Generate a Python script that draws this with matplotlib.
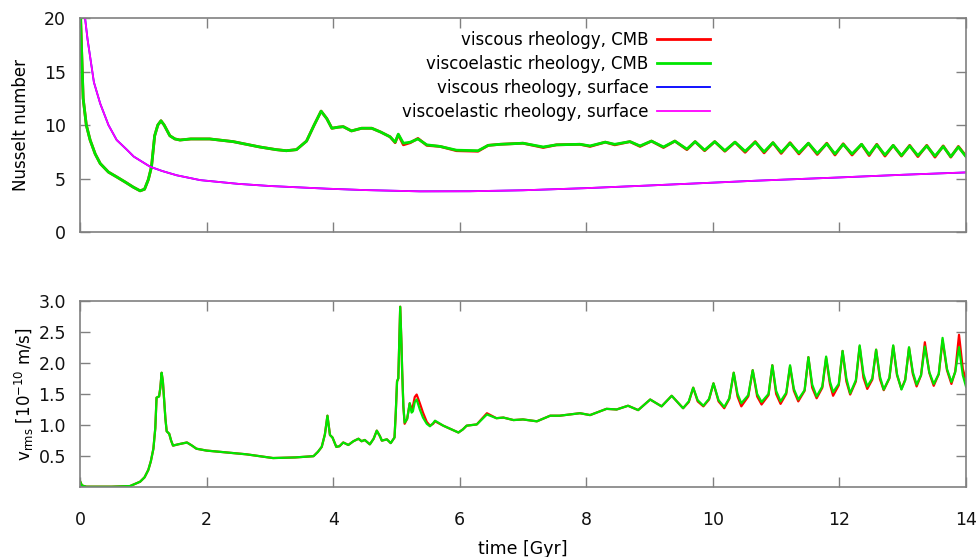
import numpy as np
import matplotlib
matplotlib.use("Agg")
import matplotlib.pyplot as plt

# ---- data ----
# Nusselt number at the CMB
t_nu_cmb = [0.0, 0.02, 0.05, 0.1, 0.16, 0.24, 0.32, 0.45, 0.58, 0.72, 0.84, 0.95,
            1.02, 1.08, 1.13, 1.18, 1.23, 1.28, 1.33, 1.42, 1.50, 1.58, 1.75, 2.05,
            2.42, 2.84, 3.1, 3.26, 3.42, 3.58, 3.70, 3.81, 3.90, 3.98, 4.08, 4.16,
            4.29, 4.45, 4.61, 4.75, 4.90, 4.98, 5.03, 5.11, 5.22, 5.34, 5.48, 5.69,
            5.95, 6.29, 6.45, 6.64, 7.00, 7.32, 7.53, 7.90, 8.06, 8.30, 8.45, 8.69,
            8.85, 9.03, 9.22, 9.40, 9.59,
            9.72, 9.87, 10.03, 10.19, 10.35, 10.51, 10.67, 10.81, 10.95, 11.08,
            11.22, 11.36, 11.51, 11.65, 11.80, 11.93, 12.06, 12.20, 12.35, 12.47,
            12.59, 12.72, 12.85, 12.98, 13.11, 13.24, 13.38, 13.51, 13.64, 13.76,
            13.88, 14.0]
nu_cmb_ve = [22.0, 18.0, 12.5, 10.0, 8.6, 7.3, 6.4, 5.6, 5.15, 4.65, 4.2, 3.85,
             4.0, 4.9, 6.1, 9.0, 10.0, 10.4, 10.0, 9.0, 8.7, 8.6, 8.7, 8.7,
             8.45, 7.95, 7.7, 7.6, 7.7, 8.5, 10.0, 11.3, 10.6, 9.7, 9.8, 9.85,
             9.45, 9.7, 9.7, 9.35, 8.9, 8.4, 9.15, 8.3, 8.4, 8.7, 8.15, 8.0,
             7.65, 7.6, 8.1, 8.2, 8.3, 7.95, 8.15, 8.2, 8.05, 8.4, 8.2, 8.45,
             8.05, 8.5, 7.95, 8.5, 7.75,
             8.45, 7.65, 8.45, 7.6, 8.4, 7.55, 8.4, 7.5, 8.35, 7.45,
             8.3, 7.4, 8.3, 7.35, 8.25, 7.3, 8.2, 7.3, 8.2, 7.25,
             8.15, 7.2, 8.1, 7.15, 8.05, 7.15, 8.05, 7.1, 8.0, 7.05,
             7.95, 7.05]
nu_cmb_v = [22.0, 18.0, 12.5, 10.0, 8.6, 7.3, 6.4, 5.6, 5.15, 4.65, 4.2, 3.85,
            4.0, 4.9, 6.1, 9.0, 10.0, 10.4, 10.0, 9.0, 8.7, 8.6, 8.7, 8.7,
            8.45, 7.95, 7.7, 7.6, 7.7, 8.5, 10.0, 11.3, 10.6, 9.7, 9.8, 9.85,
            9.45, 9.7, 9.7, 9.35, 8.9, 8.35, 9.1, 8.15, 8.35, 8.75, 8.1, 8.0,
            7.6, 7.55, 8.1, 8.2, 8.3, 7.9, 8.15, 8.2, 8.0, 8.4, 8.15, 8.45,
            8.0, 8.5, 7.9, 8.5, 7.7,
            8.45, 7.6, 8.45, 7.55, 8.4, 7.45, 8.45, 7.4, 8.35, 7.35,
            8.35, 7.3, 8.3, 7.25, 8.3, 7.2, 8.25, 7.2, 8.2, 7.15,
            8.2, 7.1, 8.1, 7.1, 8.1, 7.05, 8.1, 7.0, 8.05, 7.0,
            8.0, 7.1]

# Nusselt number at the surface (both rheologies overlap)
t_nu_surf = [0.05, 0.08, 0.12, 0.16, 0.22, 0.32, 0.45, 0.58, 0.74, 0.85, 1.0, 1.11,
             1.3, 1.53, 1.9, 2.5, 3.0, 3.9, 4.5, 5.37, 6.16, 7.0, 8.0, 9.0, 9.8,
             10.7, 12.0, 13.0, 14.0]
nu_surf_v = [23.0, 20.0, 18.0, 16.4, 14.0, 12.0, 10.0, 8.6, 7.7, 7.05, 6.5, 6.1,
             5.7, 5.3, 4.85, 4.5, 4.3, 4.05, 3.92, 3.8, 3.81, 3.9, 4.1, 4.35, 4.56,
             4.8, 5.1, 5.35, 5.57]
nu_surf_ve = [23.0, 20.0, 18.0, 16.4, 14.0, 12.0, 10.0, 8.6, 7.7, 7.05, 6.5, 6.1,
              5.7, 5.3, 4.85, 4.5, 4.3, 4.05, 3.92, 3.8, 3.81, 3.9, 4.1, 4.35, 4.56,
              4.8, 5.1, 5.35, 5.57]

# rms velocity [1e-10 m/s]
t_vrms = [0.0, 0.03, 0.1, 0.5, 0.79, 0.95, 1.02, 1.08, 1.12, 1.16, 1.19, 1.21,
          1.25, 1.27, 1.29, 1.31, 1.33, 1.35, 1.37, 1.41, 1.44, 1.47, 1.55, 1.69,
          1.77, 1.84, 2.0, 2.32, 2.63, 3.05, 3.4, 3.69, 3.76, 3.82, 3.87, 3.91,
          3.95, 3.99, 4.05, 4.10, 4.16, 4.24, 4.32, 4.40, 4.45, 4.50, 4.58, 4.64,
          4.69, 4.74, 4.77, 4.85, 4.91, 4.97, 4.99, 5.01, 5.03, 5.06, 5.08, 5.09,
          5.11, 5.13, 5.17, 5.21, 5.24, 5.26, 5.29, 5.32, 5.37, 5.42, 5.48, 5.53,
          5.58, 5.61, 5.74, 5.98, 6.05, 6.11, 6.27, 6.43, 6.58, 6.69, 6.85, 7.0,
          7.22, 7.43, 7.58, 7.90, 8.06, 8.32, 8.48, 8.66, 8.82, 9.01, 9.19, 9.35,
          9.53, 9.62, 9.69, 9.76, 9.85, 9.94, 10.01, 10.09, 10.18, 10.26, 10.33,
          10.39, 10.45, 10.56, 10.63, 10.70, 10.77, 10.88, 10.94, 11.00, 11.07,
          11.16, 11.22, 11.28, 11.35, 11.45, 11.51, 11.57, 11.64, 11.73, 11.79,
          11.85, 11.90, 11.99, 12.05, 12.11, 12.17, 12.26, 12.32, 12.38, 12.44,
          12.52, 12.58, 12.64, 12.70, 12.79, 12.85, 12.91, 12.98, 13.04, 13.10,
          13.16, 13.22, 13.29, 13.35, 13.42, 13.49, 13.57, 13.63, 13.70, 13.77,
          13.83, 13.89, 13.95, 14.0]
vrms_ve = [0.1, 0.03, 0.01, 0.01, 0.02, 0.09, 0.16, 0.28, 0.42, 0.62, 0.95, 1.44,
           1.46, 1.6, 1.84, 1.7, 1.4, 1.1, 0.9, 0.86, 0.75, 0.67, 0.69, 0.72,
           0.67, 0.62, 0.59, 0.56, 0.53, 0.47, 0.48, 0.5, 0.57, 0.65, 0.85, 1.15,
           0.84, 0.8, 0.65, 0.66, 0.72, 0.68, 0.74, 0.78, 0.74, 0.76, 0.69, 0.78,
           0.91, 0.82, 0.75, 0.77, 0.71, 0.8, 1.2, 1.7, 1.75, 2.9, 2.3, 1.9,
           1.3, 1.04, 1.1, 1.35, 1.2, 1.22, 1.37, 1.41, 1.25, 1.12, 1.02, 0.98,
           1.03, 1.07, 0.99, 0.88, 0.93, 0.99, 1.01, 1.17, 1.11, 1.12, 1.08, 1.09,
           1.06, 1.15, 1.15, 1.19, 1.16, 1.26, 1.25, 1.31, 1.24, 1.41, 1.30, 1.47,
           1.27, 1.38, 1.60, 1.40, 1.31, 1.42, 1.67, 1.40, 1.29, 1.43, 1.84,
           1.50, 1.35, 1.48, 1.88, 1.50, 1.37, 1.50, 1.96, 1.55, 1.38,
           1.52, 1.96, 1.58, 1.41, 1.56, 2.09, 1.65, 1.46, 1.62, 2.10,
           1.70, 1.53, 1.66, 2.19, 1.75, 1.51, 1.72, 2.28, 1.82, 1.62,
           1.75, 2.21, 1.78, 1.57, 1.76, 2.28, 1.82, 1.57, 1.72, 2.25,
           1.85, 1.65, 1.80, 2.26, 1.85, 1.66, 1.82, 2.40, 1.90, 1.69,
           1.85, 2.25, 1.80, 1.62]
vrms_v = [0.1, 0.03, 0.01, 0.01, 0.02, 0.09, 0.16, 0.28, 0.42, 0.62, 0.95, 1.44,
          1.46, 1.6, 1.84, 1.7, 1.4, 1.1, 0.9, 0.86, 0.75, 0.67, 0.69, 0.72,
          0.67, 0.62, 0.59, 0.56, 0.53, 0.47, 0.48, 0.5, 0.57, 0.65, 0.85, 1.15,
          0.84, 0.8, 0.65, 0.66, 0.72, 0.68, 0.74, 0.78, 0.74, 0.76, 0.69, 0.78,
          0.91, 0.82, 0.75, 0.77, 0.71, 0.8, 1.2, 1.7, 1.75, 2.9, 2.3, 1.9,
          1.3, 1.02, 1.1, 1.35, 1.25, 1.3, 1.45, 1.49, 1.35, 1.2, 1.05, 0.99,
          1.02, 1.06, 0.99, 0.88, 0.93, 0.99, 1.01, 1.19, 1.11, 1.12, 1.08, 1.09,
          1.06, 1.15, 1.15, 1.19, 1.16, 1.26, 1.25, 1.31, 1.24, 1.41, 1.30, 1.47,
          1.27, 1.37, 1.60, 1.38, 1.30, 1.41, 1.67, 1.38, 1.27, 1.42, 1.84,
          1.46, 1.30, 1.46, 1.88, 1.46, 1.33, 1.48, 1.96, 1.50, 1.34,
          1.50, 1.94, 1.55, 1.38, 1.55, 2.09, 1.60, 1.43, 1.60, 2.08,
          1.66, 1.47, 1.64, 2.19, 1.70, 1.49, 1.70, 2.26, 1.76, 1.58,
          1.73, 2.21, 1.74, 1.56, 1.75, 2.27, 1.80, 1.58, 1.73, 2.24,
          1.82, 1.62, 1.80, 2.33, 1.84, 1.63, 1.82, 2.36, 1.88, 1.66,
          1.86, 2.45, 1.90, 1.72]

labels = ["viscous rheology, CMB", "viscoelastic rheology, CMB",
          "viscous rheology, surface", "viscoelastic rheology, surface"]
colors = ["#ff0000", "#00e600", "#0000ff", "#ff00ff"]

# ---- figure ----
plt.rcParams['font.family'] = ['DejaVu Sans']
fig = plt.figure(figsize=(9.79, 5.57), dpi=100)
ax1 = fig.add_axes([0.0817, 0.5835, 0.905, 0.384])
ax2 = fig.add_axes([0.0817, 0.1251, 0.905, 0.3354])

ax1.plot(t_nu_cmb, nu_cmb_v, color=colors[0], lw=2.0, label=labels[0])
ax1.plot(t_nu_cmb, nu_cmb_ve, color=colors[1], lw=2.0, label=labels[1])
ax1.plot(t_nu_surf, nu_surf_v, color=colors[2], lw=1.3, label=labels[2])
ax1.plot(t_nu_surf, nu_surf_ve, color=colors[3], lw=1.3, label=labels[3])

ax2.plot(t_vrms, vrms_v, color=colors[0], lw=1.6)
ax2.plot(t_vrms, vrms_ve, color=colors[1], lw=1.6)

ax1.set_ylim(0, 20)
ax1.set_yticks([0, 5, 10, 15, 20])
ax2.set_ylim(0, 3.0)
ax2.set_yticks([0.5, 1.0, 1.5, 2.0, 2.5, 3.0])
ax2.set_yticklabels(["0.5", "1.0", "1.5", "2.0", "2.5", "3.0"])

for ax in (ax1, ax2):
    ax.set_xlim(0, 14)
    ax.set_xticks(np.arange(0, 15, 2))
    ax.tick_params(direction='in', length=7, width=1.0, color='#808080',
                   top=True, right=True, labelsize=12.5, labelcolor='#111111')
    ax.tick_params(axis='y', pad=10)
    ax.tick_params(axis='x', pad=17)
    for sp in ax.spines.values():
        sp.set_color('#808080')
        sp.set_linewidth(1.2)

ax1.tick_params(axis='x', labelbottom=False)

ax1.set_ylabel("Nusselt number", fontsize=12, labelpad=10)
ax2.set_ylabel(r"v$_{\mathregular{rms}}$ [10$^{\mathregular{-10}}$ m/s]", fontsize=12, labelpad=2)
ax2.set_xlabel("time [Gyr]", fontsize=12.5, labelpad=8)

ax1.legend(loc='upper right', bbox_to_anchor=(0.711, 0.94), frameon=False,
           markerfirst=False, fontsize=12, handlelength=3.2, handletextpad=0.5,
           labelspacing=0.36, borderpad=0, borderaxespad=0)

fig.savefig("out.png", dpi=100)
